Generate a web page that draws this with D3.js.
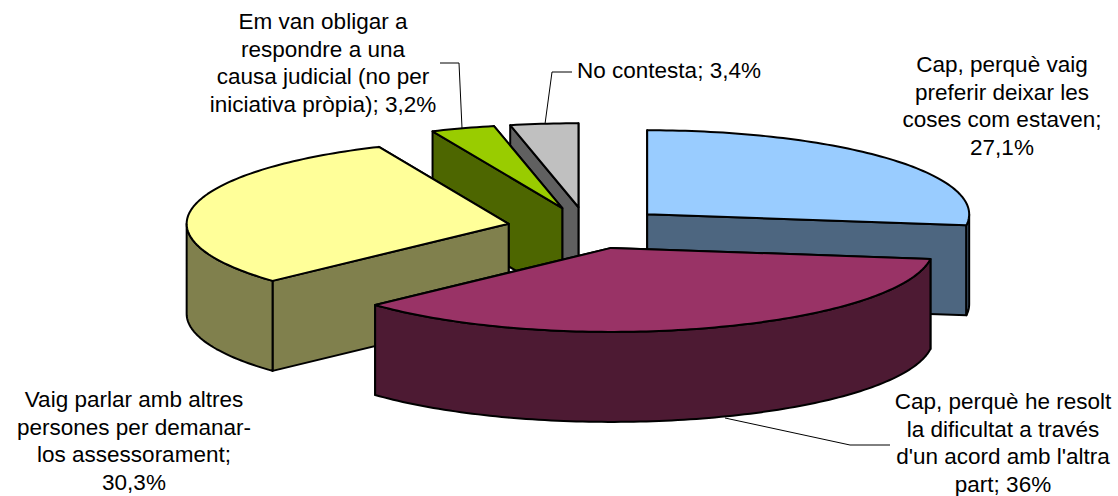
<!DOCTYPE html>
<html>
<head>
<meta charset="utf-8">
<script src="https://cdn.jsdelivr.net/npm/d3@7"></script>
<style>
html, body { margin: 0; padding: 0; background: #fff; }
svg { display: block; }
text { font-family: "Liberation Sans", Arial, sans-serif; font-size: 22.5px; fill: #000; }
</style>
</head>
<body>
<svg width="1118" height="496"></svg>
<script>
// data
const categories = [
  "Cap, perquè vaig preferir deixar les coses com estaven",
  "Cap, perquè he resolt la dificultat a través d'un acord amb l'altra part",
  "Vaig parlar amb altres persones per demanar-los assessorament",
  "Em van obligar a respondre a una causa judicial (no per iniciativa pròpia)",
  "No contesta"
];
const values = [27.1, 36, 30.3, 3.2, 3.4];
const valueLabels = ["27,1%", "36%", "30,3%", "3,2%", "3,4%"];

// how the labels wrap in the original
const labelLines = [
  ["Cap, perquè vaig", "preferir deixar les", "coses com estaven;", valueLabels[0]],
  ["Cap, perquè he resolt", "la dificultat a través", "d'un acord amb l'altra", "part; " + valueLabels[1]],
  ["Vaig parlar amb altres", "persones per demanar-", "los assessorament;", valueLabels[2]],
  ["Em van obligar a", "respondre a una", "causa judicial (no per", "iniciativa pròpia); " + valueLabels[3]],
  ["No contesta; " + valueLabels[4]]
];

const topColors = ["#99ccff", "#993366", "#ffff99", "#99cc00", "#c0c0c0"];
const sideColors = ["#4d6680", "#4d1a33", "#80804d", "#4d6600", "#606060"];

const labelX = [1002, 1003, 134, 323, 669];
const labelY = [72, 409, 407, 29, 78];
const lineGap = 27.5;

const centerX = 587, centerY = 228;
const rx = 322, ry = 84, depth = 90;
const explode = 80;
const drawOrder = [4, 3, 0, 2, 1]; // back to front

const svg = d3.select("svg");
const sx = d3.scaleLinear().domain([-1, 1]).range([-rx, rx]);
const sy = d3.scaleLinear().domain([-1, 1]).range([ry, -ry]);

const arcs = d3.pie().sort(null).value(d => d)(values);
const line = d3.line();

function rimPoints(apex, a0, a1, dy) {
  const n = Math.max(2, Math.ceil((a1 - a0) / 0.02));
  return d3.range(n + 1).map(i => {
    const a = a0 + (a1 - a0) * i / n;
    return [apex[0] + sx(Math.sin(a)), apex[1] + sy(Math.cos(a)) + dy];
  });
}

function radialWall(apex, a) {
  const p = [apex[0] + sx(Math.sin(a)), apex[1] + sy(Math.cos(a))];
  return {
    midY: (apex[1] + p[1]) / 2,
    pts: [apex, p, [p[0], p[1] + depth], [apex[0], apex[1] + depth]]
  };
}

drawOrder.forEach(i => {
  const d = arcs[i];
  const mid = (d.startAngle + d.endAngle) / 2;
  const apex = [
    centerX + explode / rx * sx(Math.sin(mid)),
    centerY + explode / rx * sy(Math.cos(mid))
  ];
  const g = svg.append("g").attr("class", "slice");

  // radial walls, the one further back goes first
  const walls = [radialWall(apex, d.startAngle), radialWall(apex, d.endAngle)]
    .sort((a, b) => a.midY - b.midY);
  walls.forEach(w => {
    g.append("path")
      .attr("d", line(w.pts) + "Z")
      .attr("fill", sideColors[i])
      .attr("stroke", "#000")
      .attr("stroke-width", 2)
      .attr("stroke-linejoin", "round");
  });

  // curved wall only exists on the front half
  const a0 = Math.max(d.startAngle, Math.PI / 2);
  const a1 = Math.min(d.endAngle, Math.PI * 1.5);
  if (a1 > a0) {
    const pts = rimPoints(apex, a0, a1, 0).concat(rimPoints(apex, a0, a1, depth).reverse());
    g.append("path")
      .attr("d", line(pts) + "Z")
      .attr("fill", sideColors[i])
      .attr("stroke", "#000")
      .attr("stroke-width", 2)
      .attr("stroke-linejoin", "round");
  }

  const topPts = [apex].concat(rimPoints(apex, d.startAngle, d.endAngle, 0));
  g.append("path")
    .attr("d", line(topPts) + "Z")
    .attr("fill", topColors[i])
    .attr("stroke", "#000")
    .attr("stroke-width", 2)
    .attr("stroke-linejoin", "round");
});

// leader lines
const leaders = [
  [[725, 418], [850, 445], [890, 445]],
  [[440, 63], [459, 63], [462, 128]],
  [[572, 72], [552, 72], [545, 124]]
];
svg.selectAll("path.leader").data(leaders).enter().append("path")
  .attr("class", "leader")
  .attr("d", d => line(d))
  .attr("fill", "none")
  .attr("stroke", "#000")
  .attr("stroke-width", 1);

// labels
labelLines.forEach((lines, i) => {
  const t = svg.append("text")
    .attr("text-anchor", "middle")
    .attr("y", labelY[i]);
  lines.forEach((s, j) => {
    t.append("tspan")
      .attr("x", labelX[i])
      .attr("y", labelY[i] + j * lineGap)
      .text(s);
  });
});
</script>
</body>
</html>
